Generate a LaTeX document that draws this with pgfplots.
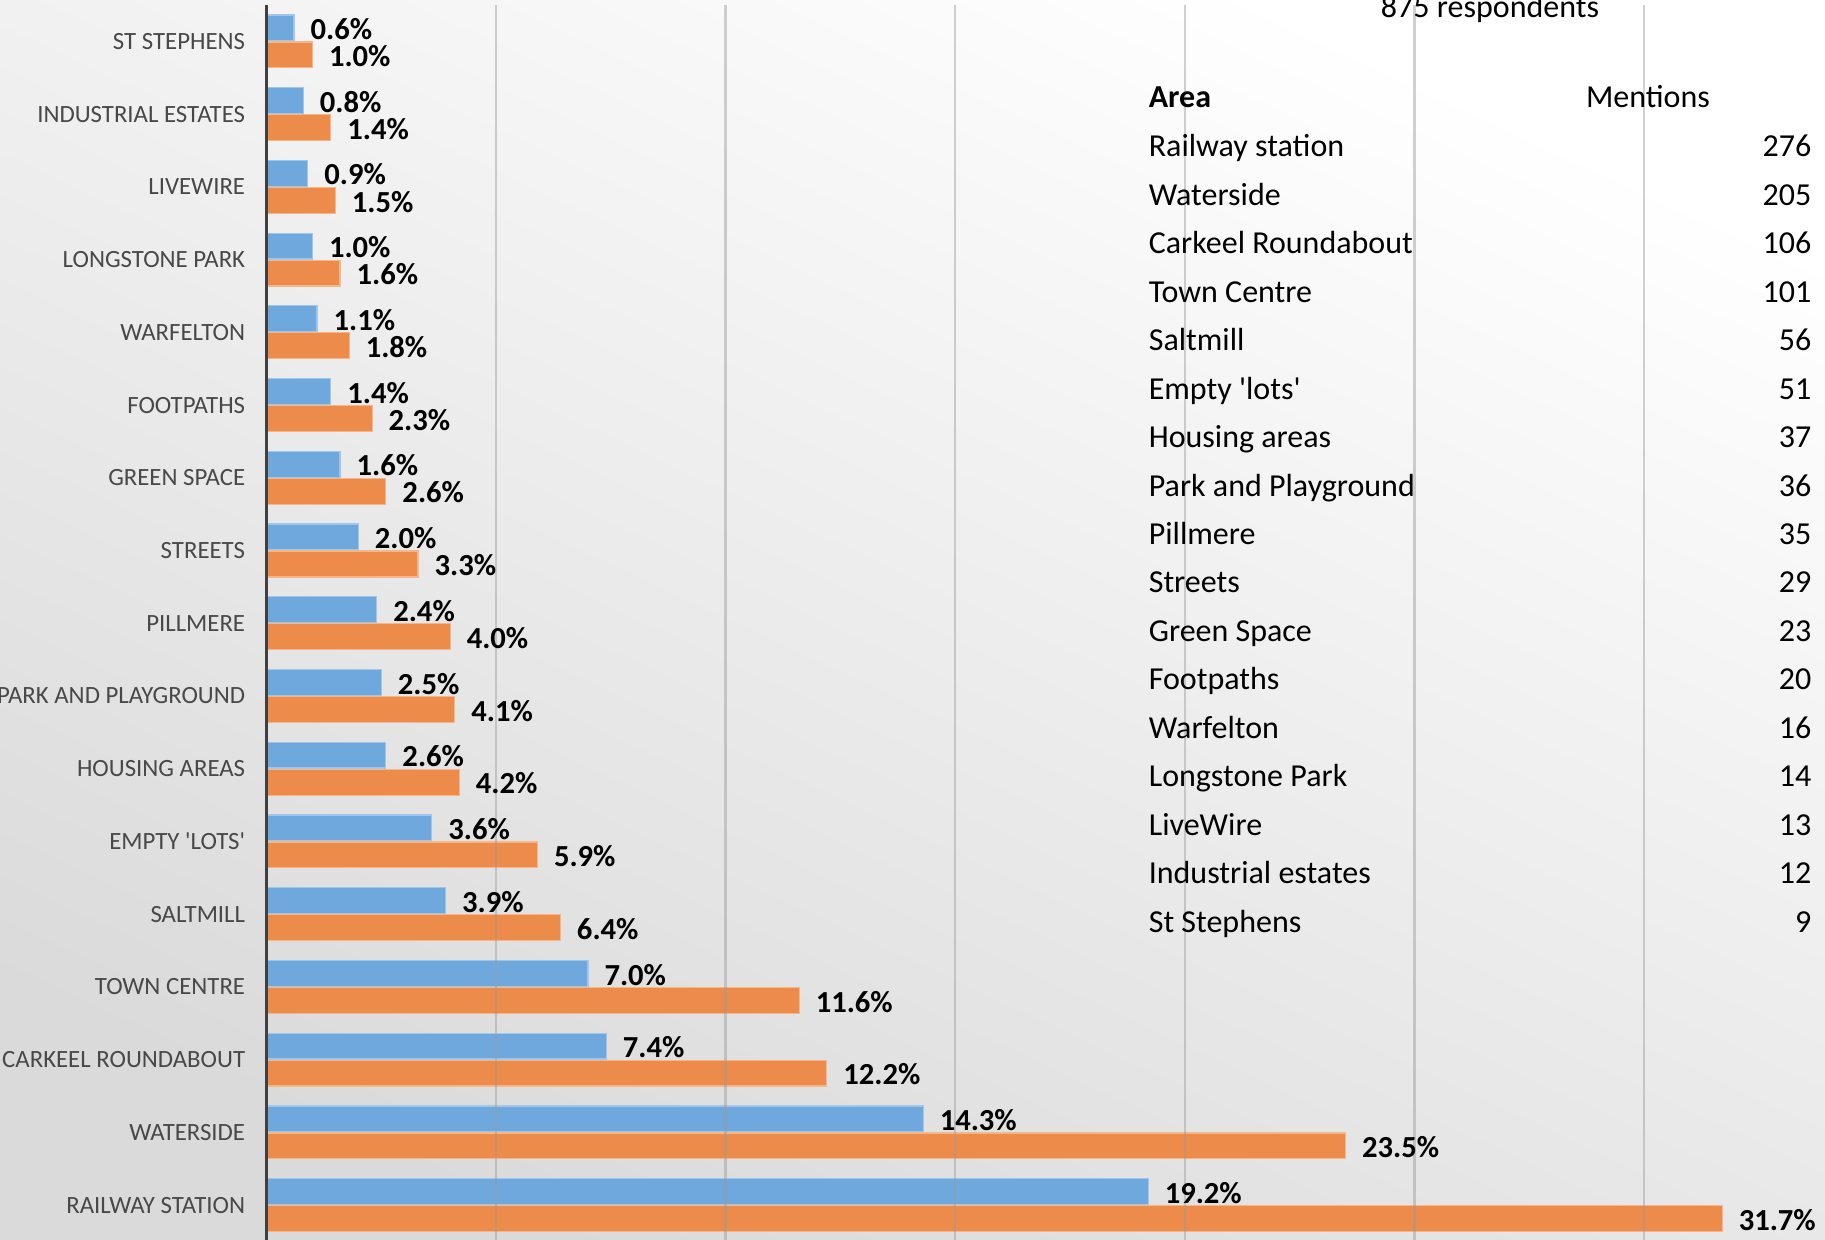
\documentclass[border=0pt]{standalone}
\usepackage{fontspec}
\setmainfont{Carlito}
\usepackage{pgfplots}
\pgfplotsset{compat=1.18}
\definecolor{barblue}{RGB}{111,168,220}
\definecolor{bluedge}{RGB}{160,198,234}
\definecolor{barorange}{RGB}{237,139,74}
\definecolor{orangedge}{RGB}{246,182,140}
\definecolor{axisgray}{RGB}{64,64,64}
\definecolor{labelgray}{RGB}{72,72,72}
\definecolor{bgdark}{RGB}{218,218,218}

% share of mentions / share of respondents, bottom (0) to top (16)
\pgfplotstableread{
y  mentions respondents
0  19.2  31.7
1  14.3  23.5
2  7.4   12.2
3  7.0   11.6
4  3.9   6.4
5  3.6   5.9
6  2.6   4.2
7  2.5   4.1
8  2.4   4.0
9  2.0   3.3
10 1.6   2.6
11 1.4   2.3
12 1.1   1.8
13 1.0   1.6
14 0.9   1.5
15 0.8   1.4
16 0.6   1.0
}\areadata

\begin{document}
\begin{tikzpicture}
\shade[shading=axis, top color=white, bottom color=bgdark, shading angle=-25]
  (0pt,0pt) rectangle (912.5pt,620pt);

\begin{axis}[
    at={(133.25pt,0pt)}, anchor=south west,
    width=779.25pt, height=617.5pt, scale only axis,
    xbar,
    xmin=0, xmax=33.94, ymin=-0.48, ymax=16.5,
    bar width=0.355,
    axis lines*=left,
    x axis line style={draw=none},
    y axis line style={line width=1.5pt, color=axisgray},
    major tick length=0pt,
    xtick={0,5,...,30}, xticklabel=\empty,
    xmajorgrids,
    grid style={line width=1.2pt, color=black!40, opacity=0.45},
    axis on top,
    clip=false,
    ytick={0,...,16},
    yticklabels={RAILWAY STATION, WATERSIDE, CARKEEL ROUNDABOUT, TOWN CENTRE,
      SALTMILL, EMPTY \textquotesingle LOTS\textquotesingle, HOUSING AREAS,
      PARK AND PLAYGROUND, PILLMERE, STREETS, GREEN SPACE, FOOTPATHS,
      WARFELTON, LONGSTONE PARK, LIVEWIRE, INDUSTRIAL ESTATES, ST STEPHENS},
    yticklabel style={font=\fontsize{12.4}{13}\selectfont, text=labelgray,
      anchor=east, inner sep=0pt, xshift=-10.5pt, text height=8pt, text depth=0pt},
    /pgf/number format/assume math mode=true,
    nodes near coords={\pgfmathprintnumber[fixed,fixed zerofill,precision=1]{\pgfplotspointmeta}\%},
    every node near coord/.append style={font=\bfseries\fontsize{15.3}{16}\selectfont,
      text=black, anchor=west, inner sep=0pt, xshift=8pt, yshift=-1pt,
      text height=9.7pt, text depth=0pt},
]
\addplot[fill=barblue, draw=bluedge, line width=0.6pt, bar shift=0.186]
  table[x=mentions, y=y] {\areadata};
\addplot[fill=barorange, draw=orangedge, line width=0.6pt, bar shift=-0.186]
  table[x=respondents, y=y] {\areadata};
\end{axis}

% table of mentions
\begin{scope}[every node/.style={inner sep=0pt, font=\fontsize{16}{17}\selectfont}]
\node[anchor=base] at (745pt,611.25pt) {875 respondents};
\node[anchor=base west, font=\bfseries\fontsize{16}{17}\selectfont] at (574.2pt,566pt) {Area};
\node[anchor=base] at (824pt,566pt) {Mentions};
\foreach \name/\val [count=\i from 0] in {Railway station/276, Waterside/205,
    Carkeel Roundabout/106, Town Centre/101, Saltmill/56,
    Empty \textquotesingle lots\textquotesingle/51, Housing areas/37,
    Park and Playground/36, Pillmere/35, Streets/29, Green Space/23,
    Footpaths/20, Warfelton/16, Longstone Park/14, LiveWire/13,
    Industrial estates/12, St Stephens/9} {
  \node[anchor=base west] at (574.2pt,{541.5pt-24.22pt*\i}) {\name};
  \node[anchor=base east] at (905.8pt,{541.5pt-24.22pt*\i}) {\val};
}
\end{scope}

\pgfresetboundingbox
\path[use as bounding box] (0pt,0pt) rectangle (912.5pt,620pt);
\end{tikzpicture}
\end{document}
